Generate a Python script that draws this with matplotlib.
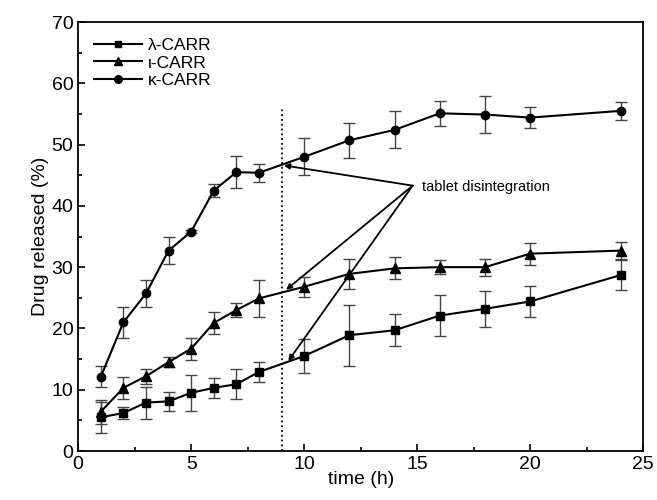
import matplotlib.pyplot as plt
from matplotlib.lines import Line2D
from matplotlib.ticker import MultipleLocator

plt.rcParams['font.family'] = ['Liberation Sans', 'DejaVu Sans']

# release data (time in h, % released, error)
t_lam = [1, 2, 3, 4, 5, 6, 7, 8, 10, 12, 14, 16, 18, 20, 24]
lam = [5.5, 6.2, 7.9, 8.1, 9.5, 10.3, 10.9, 12.9, 15.5, 18.9, 19.7, 22.1, 23.2, 24.4, 28.7]
lam_err = [2.5, 1.0, 2.6, 1.5, 2.9, 1.6, 2.4, 1.7, 2.8, 5.0, 2.6, 3.3, 2.9, 2.5, 2.5]

t_iota = [1, 2, 3, 4, 5, 6, 7, 8, 10, 12, 14, 16, 18, 20, 24]
iota = [6.4, 10.3, 12.2, 14.5, 16.7, 20.9, 23.0, 24.9, 26.8, 28.9, 29.8, 30.0, 30.0, 32.2, 32.7]
iota_err = [2.0, 1.8, 1.2, 0.8, 1.8, 1.8, 1.1, 3.0, 1.6, 2.4, 1.8, 1.2, 1.4, 1.8, 1.4]

t_kappa = [1, 2, 3, 4, 5, 6, 7, 8, 10, 12, 14, 16, 18, 20, 24]
kappa = [12.1, 21.0, 25.7, 32.7, 35.8, 42.5, 45.5, 45.4, 48.0, 50.7, 52.4, 55.1, 54.9, 54.4, 55.5]
kappa_err = [1.7, 2.5, 2.2, 2.2, 0.3, 1.1, 2.6, 1.5, 3.0, 2.9, 3.0, 2.0, 3.0, 1.7, 1.5]

labels = ['λ-CARR', 'ι-CARR', 'κ-CARR']
markers = ['s', '^', 'o']
msizes = [5.5, 6.5, 6]

# where the arrows point at the disintegration time
arrow_targets = [(9.1, 46.6), (9.2, 26.3), (9.3, 14.7)]

fig = plt.figure(figsize=(6.57, 5.0), dpi=100)
ax = fig.add_axes([0.119, 0.098, 0.860, 0.858])

handles = []
for t, y, e, m, ms, lab in [(t_lam, lam, lam_err, markers[0], msizes[0], labels[0]),
                            (t_iota, iota, iota_err, markers[1], msizes[1], labels[1]),
                            (t_kappa, kappa, kappa_err, markers[2], msizes[2], labels[2])]:
    ax.errorbar(t, y, yerr=e, color='black', ecolor='#444444', elinewidth=1,
                capsize=4, capthick=1, marker=m, markersize=ms, lw=1.5)
    handles.append(Line2D([], [], color='black', marker=m, markersize=ms - 0.5, lw=1.5, label=lab))

ax.plot([9, 9], [0, 56], ls=':', color='black', lw=1.3)

for xy in arrow_targets:
    ax.annotate('', xy=xy, xytext=(14.8, 43.3),
                arrowprops=dict(arrowstyle='-|>', color='black', lw=1.3,
                                mutation_scale=8, shrinkA=0, shrinkB=0))
ax.text(15.2, 43, 'tablet disintegration', fontsize=10.5, va='center')

ax.set_xlim(0, 25)
ax.set_ylim(0, 70)
ax.xaxis.set_major_locator(MultipleLocator(5))
ax.xaxis.set_minor_locator(MultipleLocator(2.5))
ax.yaxis.set_major_locator(MultipleLocator(10))
ax.yaxis.set_minor_locator(MultipleLocator(5))
ax.tick_params(which='both', direction='in', labelsize=14, width=1.2)
ax.tick_params(which='major', length=5)
ax.tick_params(which='minor', length=3)
for s in ax.spines.values():
    s.set_linewidth(1.3)

ax.set_xlabel('time (h)', fontsize=14, labelpad=-1)
ax.set_ylabel('Drug released (%)', fontsize=14, labelpad=2)

ax.legend(handles=handles, loc='upper left', frameon=False, fontsize=12.5,
          handlelength=2.8, labelspacing=0.15, borderaxespad=0.5, handletextpad=0.3)

fig.savefig('out.png', dpi=100)
